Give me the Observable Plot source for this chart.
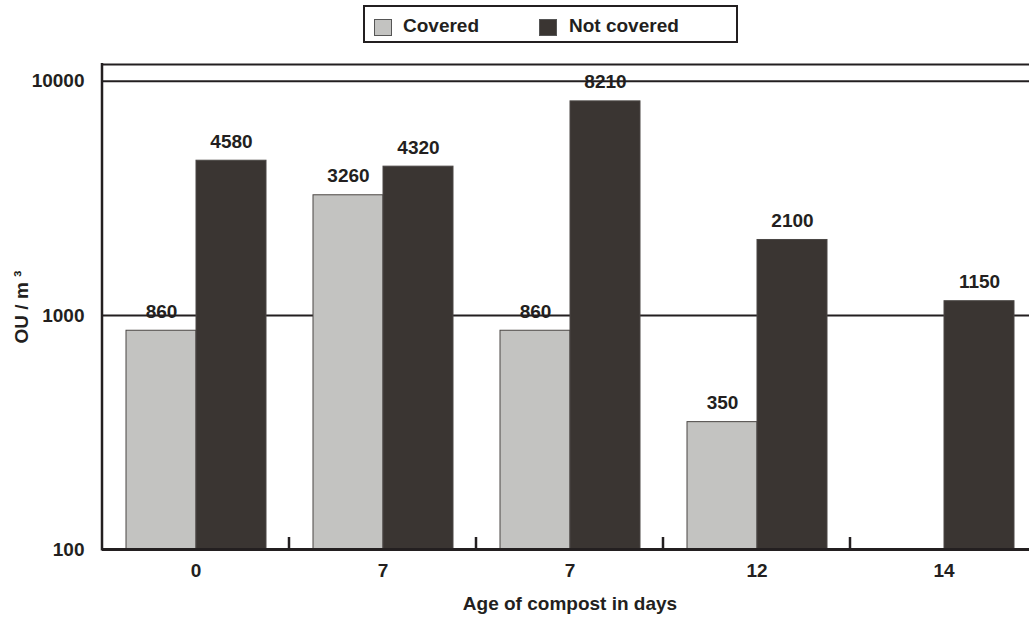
<!DOCTYPE html>
<html>
<head>
<meta charset="utf-8">
<script src="https://cdn.jsdelivr.net/npm/d3@7"></script>
<script src="https://cdn.jsdelivr.net/npm/@observablehq/plot@0.6"></script>
<style>
  html, body { margin: 0; padding: 0; background: #fff; }
  body { font-family: "Liberation Sans", Arial, sans-serif; width: 1029px; height: 619px; overflow: hidden; }
  #legend { position: relative; height: 48px; }
  #legend .box { position: absolute; left: 363px; top: 5px; width: 371px; height: 34px; border: 2px solid #231f20; }
  #legend .sw { position: absolute; top: 12px; width: 16px; height: 15px; border: 1px solid #555; }
  #legend .lab { position: absolute; top: 7px; font-size: 19px; font-weight: bold; color: #231f20; line-height: 24px; }
  #chart svg { display: block; }
</style>
</head>
<body>
<div id="legend"></div>
<div id="chart"></div>
<script>
// ---- data ----
const groupKeys = ["g0", "g1", "g2", "g3", "g4"];
const ageLabels = ["0", "7", "7", "12", "14"];
const seriesNames = ["Covered", "Not covered"];
const coveredValues = [860, 3260, 860, 350, null];
const notCoveredValues = [4580, 4320, 8210, 2100, 1150];
const yTicks = [100, 1000, 10000];
const seriesColors = ["#c3c3c1", "#3a3532"];

// ---- table ----
const rows = [];
groupKeys.forEach((g, i) => {
  if (coveredValues[i] != null) rows.push({group: g, series: seriesNames[0], value: coveredValues[i]});
  if (notCoveredValues[i] != null) rows.push({group: g, series: seriesNames[1], value: notCoveredValues[i]});
});
const labelOf = Object.fromEntries(groupKeys.map((g, i) => [g, ageLabels[i]]));
const yMax = 11800;

// ---- legend ----
const legend = document.getElementById("legend");
const box = document.createElement("div");
box.className = "box";
legend.appendChild(box);
const legendPos = [{sw: 9, lab: 38}, {sw: 174, lab: 204}];
seriesNames.forEach((s, i) => {
  const sw = document.createElement("div");
  sw.className = "sw";
  sw.style.left = legendPos[i].sw + "px";
  sw.style.background = seriesColors[i];
  box.appendChild(sw);
  const lab = document.createElement("div");
  lab.className = "lab";
  lab.style.left = legendPos[i].lab + "px";
  lab.textContent = s;
  box.appendChild(lab);
});

// ---- chart ----
const chart = Plot.plot({
  width: 1029,
  height: 571,
  marginTop: 16,
  marginBottom: 70,
  marginLeft: 101,
  marginRight: 0,
  style: {fontFamily: "'Liberation Sans', Arial, sans-serif", fontSize: "19px", fontWeight: "bold", color: "#231f20", background: "transparent"},
  facet: {data: rows, x: "group"},
  fx: {
    domain: groupKeys,
    range: [101, 1038],
    padding: 0,
    axis: "bottom",
    tickSize: 0,
    tickPadding: 14,
    tickFormat: g => labelOf[g],
    label: "Age of compost in days",
    labelAnchor: "center",
    labelOffset: 60
  },
  x: {domain: seriesNames, paddingInner: 0, paddingOuter: 0.32, axis: null},
  y: {
    type: "log",
    domain: [100, yMax],
    ticks: yTicks,
    tickFormat: d => String(d),
    tickSize: 0,
    tickPadding: 18,
    label: "OU / m ³",
    labelArrow: "none",
    labelAnchor: "center",
    labelOffset: 88
  },
  color: {domain: seriesNames, range: seriesColors},
  marks: [
    Plot.ruleY([1000, 10000], {stroke: "#231f20", strokeWidth: 2}),
    Plot.ruleY([yMax], {stroke: "#231f20", strokeWidth: 2}),
    Plot.barY(rows, {x: "series", y1: 100, y2: "value", fill: "series", stroke: "#4a4644", strokeWidth: 1}),
    Plot.text(rows, {x: "series", y: "value", text: d => String(d.value), dy: -13, lineAnchor: "bottom", fontSize: 19, fontWeight: "bold", fill: "#231f20"}),
    Plot.ruleY([100], {stroke: "#231f20", strokeWidth: 3})
  ]
});
document.getElementById("chart").appendChild(chart);

// remove any arrow glyph that an older Plot adds to the y label
d3.select(chart).selectAll("text").each(function() {
  const t = this.textContent;
  if (t.includes("OU / m")) this.textContent = "OU / m ³";
});

// ---- frame left edge and group-boundary ticks via the plot's scales ----
const fx = chart.scale("fx");
const ys = chart.scale("y");
const yBottom = ys.apply(100);
const yTop = ys.apply(yMax);
const g = d3.select(chart).append("g").attr("stroke", "#231f20");
g.append("line")
  .attr("x1", fx.apply(groupKeys[0])).attr("x2", fx.apply(groupKeys[0]))
  .attr("y1", yTop - 1).attr("y2", yBottom + 1.5).attr("stroke-width", 2.5);
groupKeys.slice(1).forEach(k => {
  const x = fx.apply(k);
  g.append("line").attr("x1", x).attr("x2", x)
    .attr("y1", yBottom).attr("y2", yBottom - 12).attr("stroke-width", 2.5);
});
</script>
</body>
</html>
